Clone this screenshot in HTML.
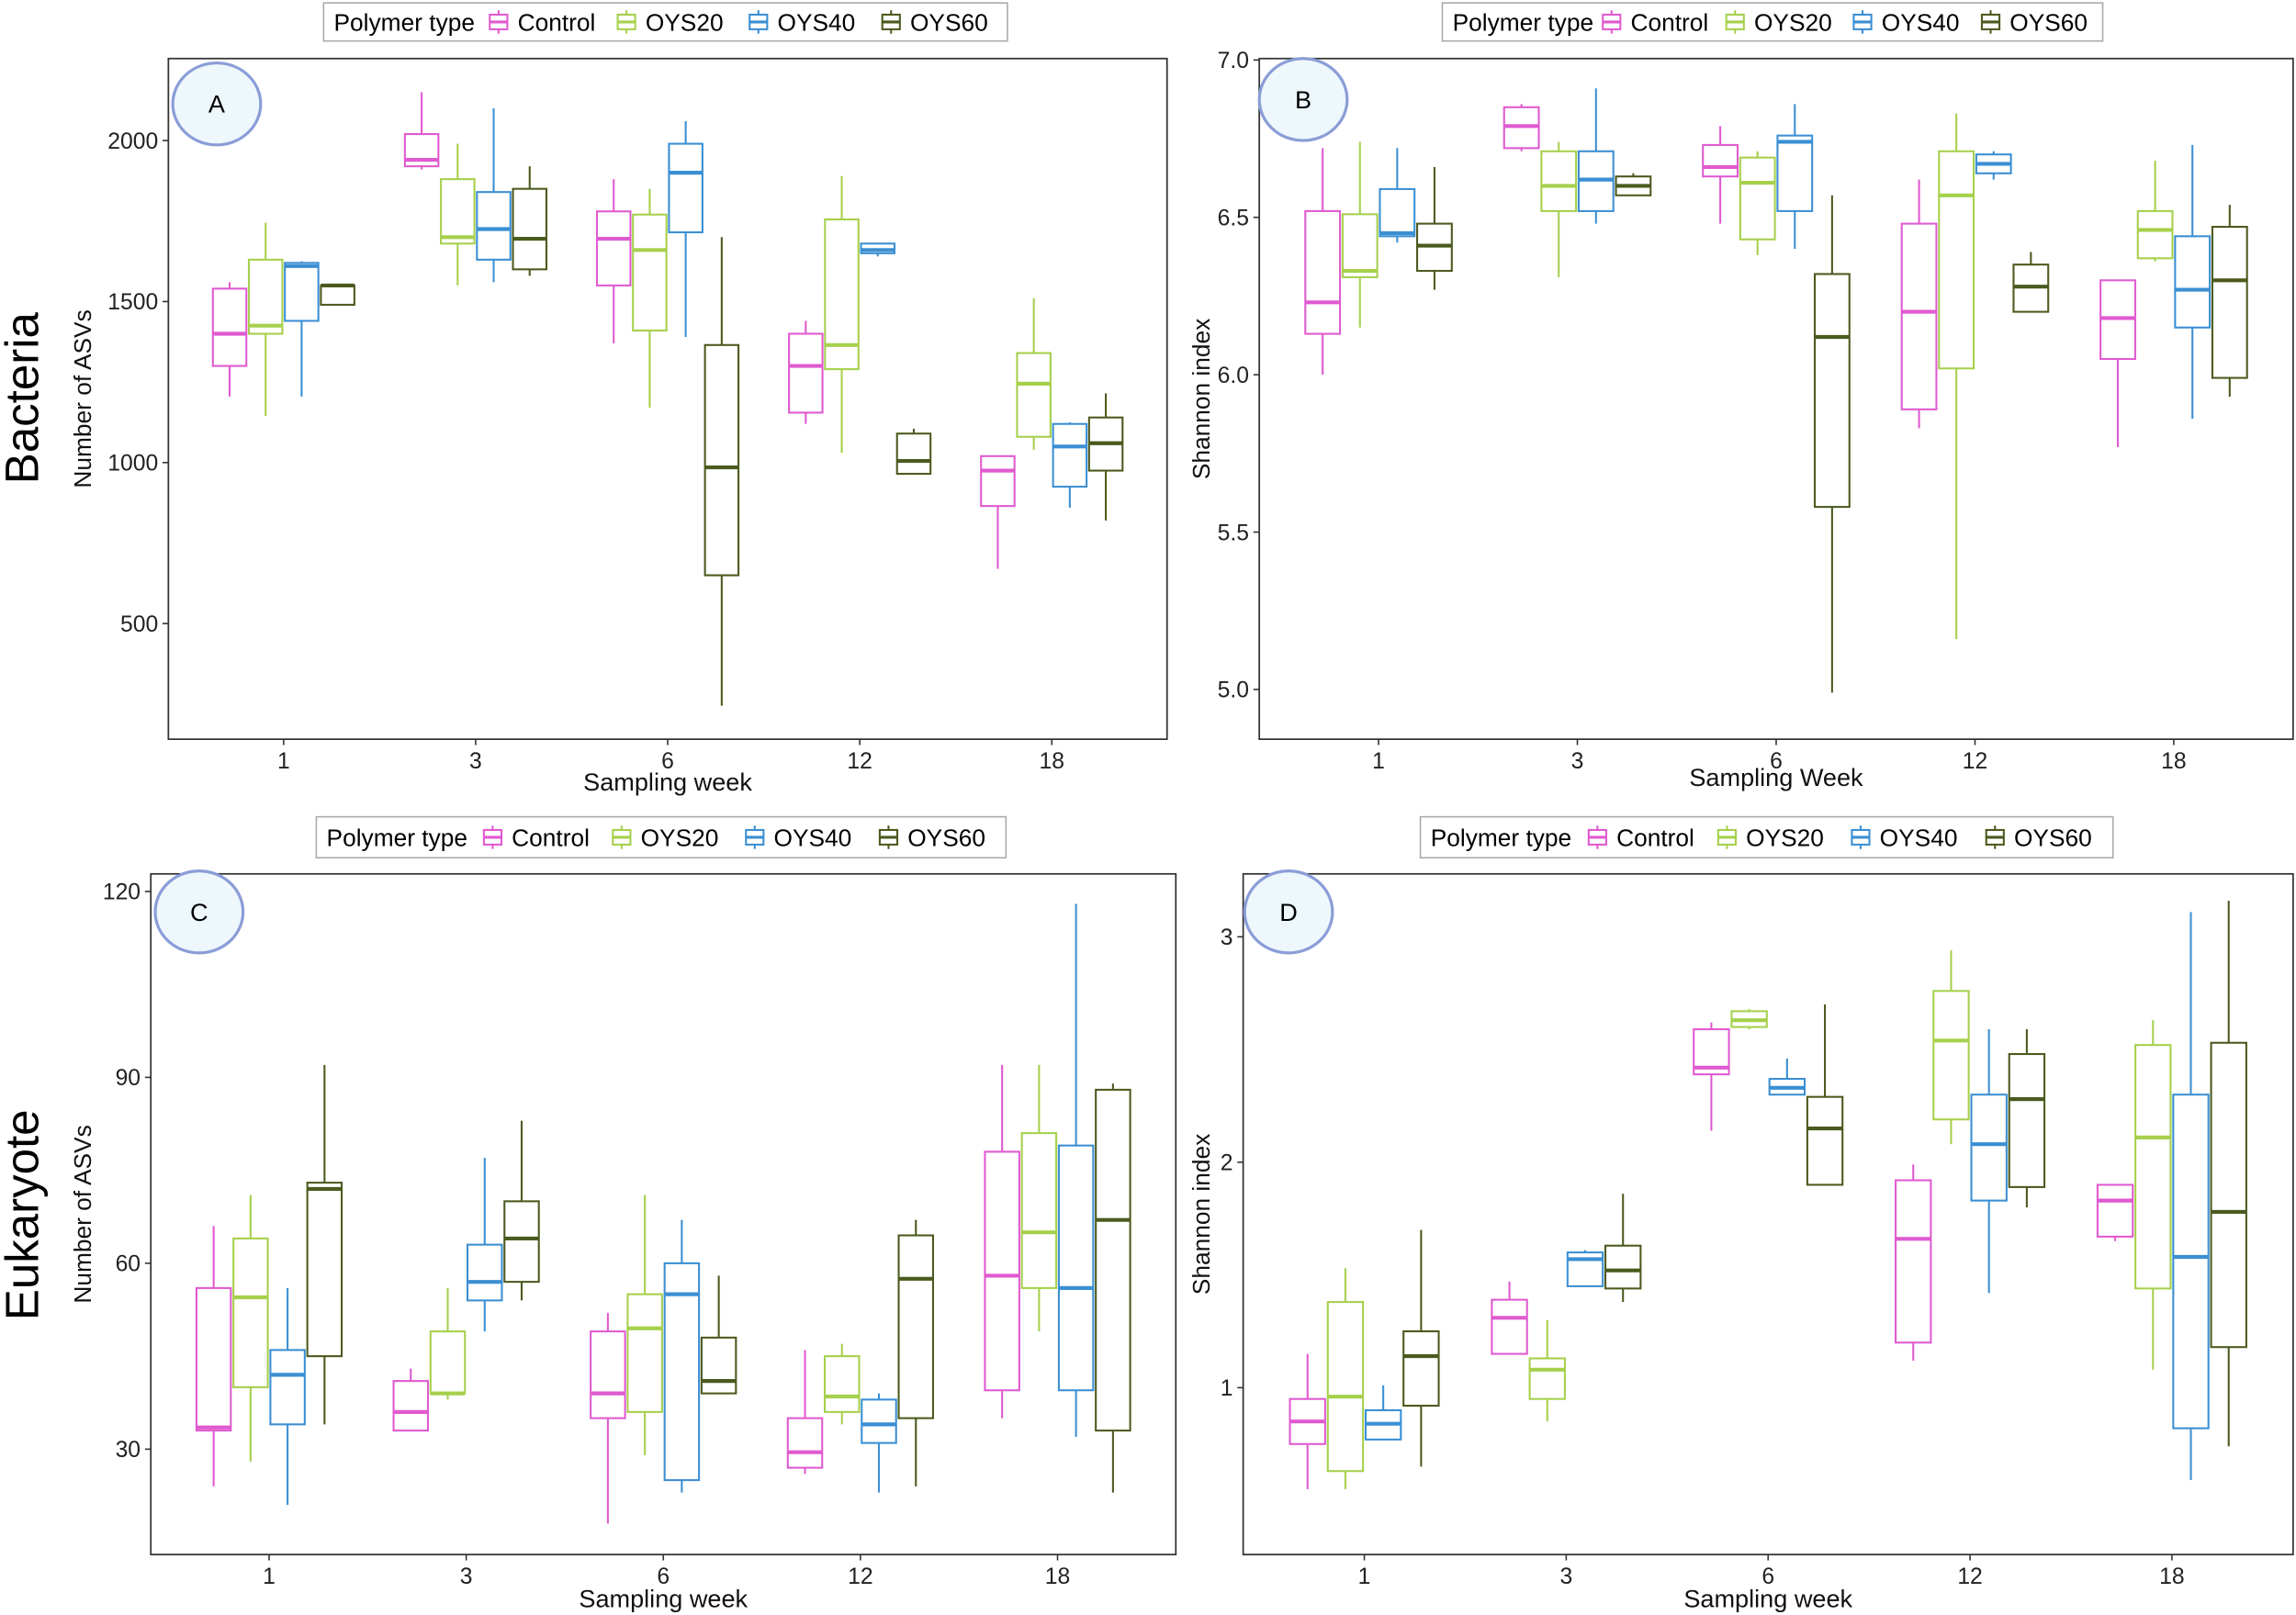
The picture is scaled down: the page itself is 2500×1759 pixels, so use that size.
<!DOCTYPE html>
<html><head><meta charset="utf-8">
<style>
html,body{margin:0;padding:0;background:#fff;}
svg{display:block;font-family:"Liberation Sans",Arial,sans-serif;}
</style></head>
<body>
<svg id="chart" width="2500" height="1759" viewBox="0 0 1568 1103.3" preserveAspectRatio="none" xmlns="http://www.w3.org/2000/svg">
<text transform="translate(26,272) rotate(-90)" text-anchor="middle" font-size="32">Bacteria</text>
<text transform="translate(26,830) rotate(-90)" text-anchor="middle" font-size="32">Eukaryote</text>
</svg>
<script>
const weeks = ["1","3","6","12","18"];
const groups = ["Control","OYS20","OYS40","OYS60"];
const colors = ["#e05ad0","#a6d04c","#3b8fd3","#4b5a1e"];
// each: [lowWhisker, q1, median, q3, highWhisker], indexed [week][group]
const dataA = [
 [[1205,1300,1400,1540,1560],[1145,1400,1425,1630,1745],[1205,1440,1610,1620,1625],[1490,1490,1550,1550,1555]],
 [[1910,1920,1940,2020,2150],[1550,1680,1700,1880,1990],[1560,1630,1725,1840,2100],[1580,1600,1695,1850,1920]],
 [[1370,1550,1695,1780,1880],[1170,1410,1660,1770,1850],[1390,1715,1900,1990,2060],[245,650,985,1365,1700]],
 [[1120,1155,1300,1400,1440],[1030,1290,1365,1755,1890],[1640,1650,1660,1680,1680],[965,965,1005,1090,1105]],
 [[670,865,975,1020,1020],[1040,1080,1245,1340,1510],[860,925,1050,1120,1125],[820,975,1060,1140,1215]]
];
const dataB = [
 [[6.0,6.13,6.23,6.52,6.72],[6.15,6.31,6.33,6.51,6.74],[6.42,6.44,6.45,6.59,6.72],[6.27,6.33,6.41,6.48,6.66]],
 [[6.71,6.72,6.79,6.85,6.86],[6.31,6.52,6.60,6.71,6.74],[6.48,6.52,6.62,6.71,6.91],[6.57,6.57,6.60,6.63,6.64]],
 [[6.48,6.63,6.66,6.73,6.79],[6.38,6.43,6.61,6.69,6.71],[6.40,6.52,6.74,6.76,6.86],[4.99,5.58,6.12,6.32,6.57]],
 [[5.83,5.89,6.20,6.48,6.62],[5.16,6.02,6.57,6.71,6.83],[6.62,6.64,6.67,6.70,6.71],[6.20,6.20,6.28,6.35,6.39]],
 [[5.77,6.05,6.18,6.30,6.30],[6.36,6.37,6.46,6.52,6.68],[5.86,6.15,6.27,6.44,6.73],[5.93,5.99,6.30,6.47,6.54]]
];
const dataC = [
 [[24,33,33.5,56,66],[28,40,54.5,64,71],[21,34,42,46,56],[34,45,72,73,92]],
 [[33,33,36,41,43],[38,39,39,49,56],[49,54,57,63,77],[54,57,64,70,83]],
 [[18,35,39,49,52],[29,36,49.5,55,71],[23,25,55,60,67],[39,39,41,48,58]],
 [[26,27,29.5,35,46],[34,36,38.5,45,47],[23,31,34,38,39],[24,35,57.5,64.5,67]],
 [[35,39.5,58,78,92],[49,56,65,81,92],[32,39.5,56,79,118],[23,33,67,88,89]]
];
const dataD = [
 [[0.55,0.75,0.85,0.95,1.15],[0.55,0.63,0.96,1.38,1.53],[0.77,0.77,0.84,0.90,1.01],[0.65,0.92,1.14,1.25,1.70]],
 [[1.15,1.15,1.31,1.39,1.47],[0.85,0.95,1.08,1.13,1.30],[1.45,1.45,1.57,1.60,1.61],[1.38,1.44,1.52,1.63,1.86]],
 [[2.14,2.39,2.42,2.59,2.62],[2.59,2.60,2.63,2.67,2.68],[2.30,2.30,2.33,2.37,2.46],[1.90,1.90,2.15,2.29,2.70]],
 [[1.12,1.20,1.66,1.92,1.99],[2.08,2.19,2.54,2.76,2.94],[1.42,1.83,2.08,2.30,2.59],[1.80,1.89,2.28,2.48,2.59]],
 [[1.65,1.67,1.83,1.90,1.90],[1.08,1.44,2.11,2.52,2.63],[0.59,0.82,1.58,2.30,3.11],[0.74,1.18,1.78,2.53,3.16]]
];
const ticksA = [500,1000,1500,2000];
const ticksB = [5.0,5.5,6.0,6.5,7.0];
const ticksBLabels = ["5.0","5.5","6.0","6.5","7.0"];
const ticksC = [30,60,90,120];
const ticksD = [1,2,3];

const NS="http://www.w3.org/2000/svg";
const svg=document.getElementById('chart');
function mk(tag,attrs,parent,text){const e=document.createElementNS(NS,tag);for(const k in attrs)e.setAttribute(k,attrs[k]);if(text!==undefined)e.textContent=text;(parent||svg).appendChild(e);return e;}

const panels=[
 {id:"a",letter:"A",x0:115,x1:797,y0:40,y1:505,v0:2000,p0:96,v1:500,p1:426,data:dataA,ticks:ticksA,tl:ticksA.map(String),ytitle:"Number of ASVs",yt:62,xtitle:"Sampling week",xty:540,leg:[221,688,2,28],circ:[148,71]},
 {id:"b",letter:"B",x0:860,x1:1566,y0:40,y1:505,v0:7.0,p0:41,v1:5.0,p1:471,data:dataB,ticks:ticksB,tl:ticksBLabels,ytitle:"Shannon index",yt:826,xtitle:"Sampling Week",xty:537,leg:[985,1436,2,28],circ:[890,68]},
 {id:"c",letter:"C",x0:103,x1:803,y0:597,y1:1062,v0:120,p0:609,v1:30,p1:990,data:dataC,ticks:ticksC,tl:ticksC.map(String),ytitle:"Number of ASVs",yt:62,xtitle:"Sampling week",xty:1098,leg:[216,687,558,586],circ:[136,623]},
 {id:"d",letter:"D",x0:849,x1:1566,y0:597,y1:1062,v0:3,p0:640,v1:1,p1:948,data:dataD,ticks:ticksD,tl:ticksD.map(String),ytitle:"Shannon index",yt:826,xtitle:"Sampling week",xty:1098,leg:[970,1443,558,586],circ:[880,623]}
];

panels.forEach(P=>{
 const g=mk('g',{});
 
 
 const y=v=>P.p0+(v-P.v0)*(P.p1-P.p0)/(P.v1-P.v0);
 const step=(P.x1-P.x0)/(weeks.length-1+1.2);
 const xc=i=>P.x0+step*(0.6+i);
 const bw=step*0.75/4;
 const frame=mk('rect',{x:P.x0,y:P.y0,width:P.x1-P.x0,height:P.y1-P.y0,fill:"none",stroke:"#333","stroke-width":1.1},g);
 
 
 P.ticks.forEach((t,i)=>{
  const ty=y(t);
  const tk=mk('line',{x1:P.x0-4,x2:P.x0,y1:ty,y2:ty,stroke:"#333"},g);
  
  
  const lb=mk('text',{x:P.x0-7,y:ty+5.5,"text-anchor":"end","font-size":15.5,fill:"#222"},g,P.tl[i]);
  
  
 });
 weeks.forEach((w,i)=>{
  const cx=xc(i);
  const tk=mk('line',{x1:cx,x2:cx,y1:P.y1,y2:P.y1+4,stroke:"#333"},g);
  
  
  const lb=mk('text',{x:cx,y:P.y1+20,"text-anchor":"middle","font-size":15.5,fill:"#222"},g,w);
  
  
  groups.forEach((gn,j)=>{
   const d=P.data[i][j];
   const bx=cx+(j-1.5)*bw;
   const c=colors[j];
   const bg=mk('g',{},g);
   
   
   mk('line',{x1:bx,x2:bx,y1:y(d[0]),y2:y(d[1]),stroke:c,"stroke-width":1.3},bg);
   mk('line',{x1:bx,x2:bx,y1:y(d[3]),y2:y(d[4]),stroke:c,"stroke-width":1.3},bg);
   const h=bw*0.93/2;
   mk('rect',{x:bx-h,y:y(d[3]),width:2*h,height:Math.max(0.5,y(d[1])-y(d[3])),fill:"#fff",stroke:c,"stroke-width":1.3},bg);
   mk('line',{x1:bx-h,x2:bx+h,y1:y(d[2]),y2:y(d[2]),stroke:c,"stroke-width":2.6},bg);
  });
 });
 const yt=mk('text',{transform:`translate(${P.yt},${(P.y0+P.y1)/2}) rotate(-90)`,"text-anchor":"middle","font-size":16.5,fill:"#111"},g,P.ytitle);
 
 
 const xt=mk('text',{x:(P.x0+P.x1)/2,y:P.xty,"text-anchor":"middle","font-size":17,fill:"#111"},g,P.xtitle);
 
 
 const cg=mk('g',{},g);
 
 
 mk('ellipse',{cx:P.circ[0],cy:P.circ[1],rx:30,ry:28,fill:"#eef7fc",stroke:"#8a9dd6","stroke-width":2},cg);
 mk('text',{x:P.circ[0],y:P.circ[1]+6,"text-anchor":"middle","font-size":17},cg,P.letter);
 const L=P.leg;
 const lg=mk('g',{},g);
 
 
 mk('rect',{x:L[0],y:L[2],width:L[1]-L[0],height:L[3]-L[2],fill:"#fff",stroke:"#aaa","stroke-width":1},lg);
 const ly=(L[2]+L[3])/2;
 const lt=mk('text',{x:L[0]+7,y:ly+6,"font-size":16.5},lg,"Polymer type");
 
 
 const W=L[1]-L[0];
 const starts=[0.243,0.43,0.623,0.817].map(f=>L[0]+f*W);
 groups.forEach((gn,j)=>{
  const eg=mk('g',{},lg);
  
  
  const sx=starts[j];
  mk('line',{x1:sx+6,x2:sx+6,y1:ly-8,y2:ly+8,stroke:colors[j],"stroke-width":1.3},eg);
  mk('rect',{x:sx,y:ly-5,width:12,height:10,fill:"#fff",stroke:colors[j],"stroke-width":1.3},eg);
  mk('line',{x1:sx,x2:sx+12,y1:ly,y2:ly,stroke:colors[j],"stroke-width":2},eg);
  mk('text',{x:sx+19,y:ly+6,"font-size":16.5},eg,gn);
 });
});
</script>
</body></html>
